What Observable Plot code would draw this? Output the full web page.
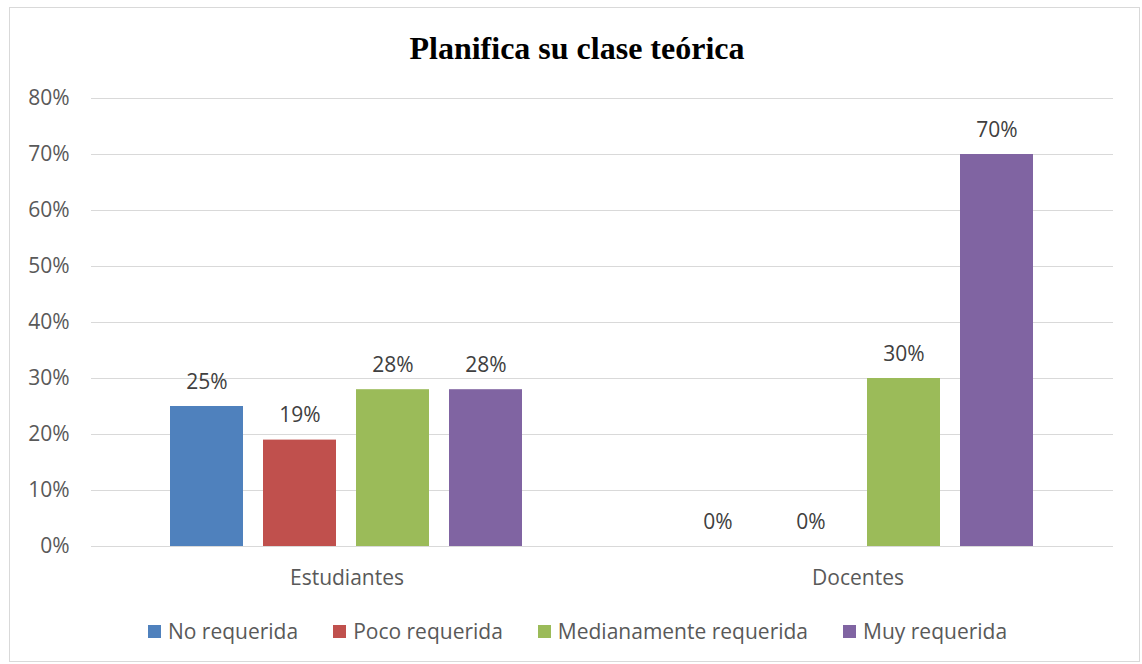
<!DOCTYPE html>
<html>
<head>
<meta charset="utf-8">
<script src="https://cdn.jsdelivr.net/npm/d3@7"></script>
<script src="https://cdn.jsdelivr.net/npm/@observablehq/plot@0.6"></script>
<style>
  html, body { margin: 0; padding: 0; background: #fff; }
  #wrap { position: relative; width: 1142px; height: 664px; overflow: hidden; font-family: "Open Sans", sans-serif; }
  #frame { position: absolute; left: 9px; top: 7px; width: 1131px; height: 655px; box-sizing: border-box; border: 1px solid #d9d9d9; }
  #title { position: absolute; left: 0; width: 1154px; top: 27px; text-align: center; font-family: "Liberation Serif", "Times New Roman", serif; font-weight: bold; font-size: 32px; color: #000; line-height: 42px; }
  #chart { position: absolute; left: 0; top: 80px; }
  #legend { position: absolute; left: 0; width: 1155px; top: 616px; display: flex; justify-content: center; gap: 35px; font-size: 21px; color: #595959; line-height: 30px; }
  .item { display: flex; align-items: center; gap: 7px; }
  .sw { width: 13px; height: 13px; display: inline-block; }
</style>
</head>
<body>
<div id="wrap">
  <div id="frame"></div>
  <div id="title">Planifica su clase teórica</div>
  <div id="chart"></div>
  <div id="legend"></div>
</div>
<script>
const categories = ["Estudiantes", "Docentes"];
const series = ["No requerida", "Poco requerida", "Medianamente requerida", "Muy requerida"];
const estudiantes = [0.25, 0.19, 0.28, 0.28];
const docentes = [0, 0, 0.30, 0.70];
const colors = ["#4f81bd", "#c0504d", "#9bbb59", "#8064a2"];
const yTicks = [0, 0.1, 0.2, 0.3, 0.4, 0.5, 0.6, 0.7, 0.8];

const rows = [];
series.forEach((s, i) => {
  rows.push({cat: categories[0], series: s, value: estudiantes[i]});
  rows.push({cat: categories[1], series: s, value: docentes[i]});
});
const pct = d3.format(".0%");

const plot = Plot.plot({
  width: 1142,
  height: 520,
  marginLeft: 90,
  marginRight: 29,
  marginTop: 18,
  marginBottom: 54,
  style: {fontFamily: "'Open Sans', sans-serif", fontSize: "21px", color: "#595959", background: "transparent", overflow: "visible"},
  fx: {domain: categories, padding: 0, label: null},
  x: {domain: series, axis: null, paddingInner: 0.21, paddingOuter: 0.85},
  y: {domain: [0, 0.8], label: null, axis: null},
  color: {domain: series, range: colors},
  marks: [
    Plot.gridY(yTicks, {stroke: "#d9d9d9", strokeOpacity: 1, strokeWidth: 1}),
    Plot.axisY(yTicks, {tickFormat: pct, tickSize: 0, tickPadding: 22, fontSize: 21, fill: "#595959", label: null}),
    Plot.axisFx({anchor: "bottom", tickSize: 0, tickPadding: 24, fontSize: 21, fill: "#595959", label: null}),
    Plot.barY(rows, {fx: "cat", x: "series", y: "value", fill: "series"}),
    Plot.text(rows, {fx: "cat", x: "series", y: "value", text: d => pct(d.value), lineAnchor: "bottom", dy: -18, fontSize: 21, fill: "#404040"})
  ]
});
document.getElementById("chart").appendChild(plot);

const legend = document.getElementById("legend");
series.forEach((s, i) => {
  const item = document.createElement("div");
  item.className = "item";
  const sw = document.createElement("span");
  sw.className = "sw";
  sw.style.background = colors[i];
  const t = document.createElement("span");
  t.textContent = s;
  item.appendChild(sw);
  item.appendChild(t);
  legend.appendChild(item);
});
</script>
</body>
</html>
